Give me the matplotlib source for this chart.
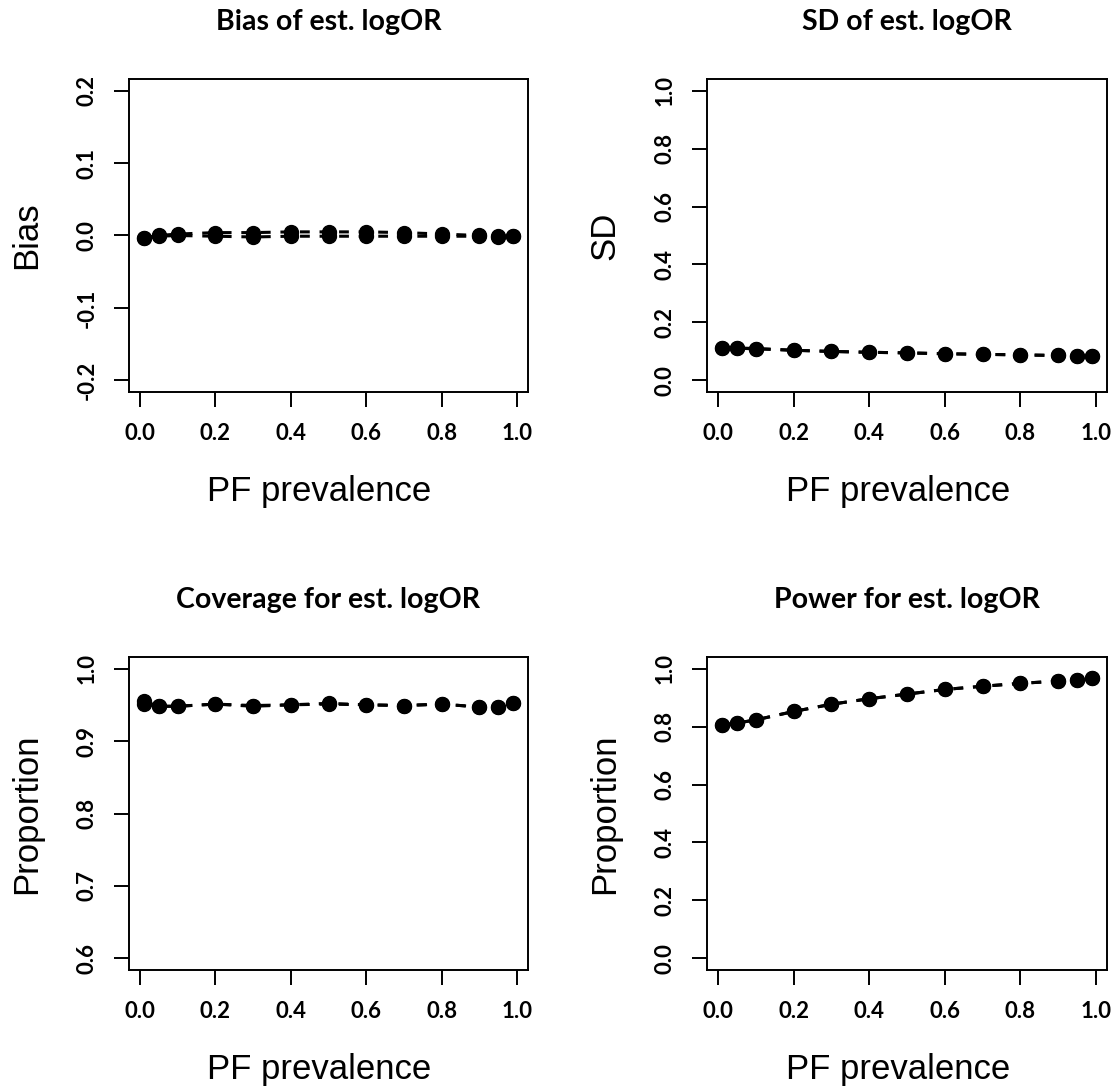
import matplotlib
matplotlib.use("Agg")
import matplotlib.pyplot as plt

# PF prevalence grid used in the simulation
prevalence = [0.01, 0.05, 0.1, 0.2, 0.3, 0.4, 0.5, 0.6, 0.7, 0.8, 0.9, 0.95, 0.99]

# two estimators, results nearly overlap
bias_a = [-0.003, 0.000, 0.002, 0.004, 0.004, 0.005, 0.005, 0.005, 0.004, 0.002, 0.000, -0.001, -0.001]
bias_b = [-0.004, -0.001, 0.000, -0.001, -0.002, -0.001, -0.001, -0.001, -0.001, -0.001, -0.001, -0.002, -0.001]

sd_a = [0.113, 0.112, 0.110, 0.104, 0.100, 0.097, 0.095, 0.092, 0.090, 0.088, 0.086, 0.085, 0.084]
sd_b = [0.112, 0.111, 0.109, 0.104, 0.100, 0.097, 0.095, 0.092, 0.090, 0.088, 0.086, 0.085, 0.084]

cover_a = [0.955, 0.948, 0.948, 0.951, 0.948, 0.950, 0.952, 0.950, 0.949, 0.951, 0.947, 0.947, 0.953]
cover_b = [0.951, 0.948, 0.948, 0.951, 0.949, 0.950, 0.951, 0.950, 0.949, 0.951, 0.947, 0.947, 0.953]

power_a = [0.805, 0.812, 0.823, 0.852, 0.877, 0.896, 0.912, 0.928, 0.939, 0.949, 0.957, 0.962, 0.966]
power_b = [0.805, 0.812, 0.823, 0.852, 0.877, 0.896, 0.912, 0.928, 0.939, 0.949, 0.957, 0.962, 0.966]

titles = ["Bias of est. logOR", "SD of est. logOR",
          "Coverage for est. logOR", "Power for est. logOR"]
ylabels = ["Bias", "SD", "Proportion", "Proportion"]
yticks = [[-0.2, -0.1, 0.0, 0.1, 0.2],
          [0.0, 0.2, 0.4, 0.6, 0.8, 1.0],
          [0.6, 0.7, 0.8, 0.9, 1.0],
          [0.0, 0.2, 0.4, 0.6, 0.8, 1.0]]
xticks = [0.0, 0.2, 0.4, 0.6, 0.8, 1.0]

W, H = 1118, 1089
fig = plt.figure(figsize=(W / 100, H / 100), dpi=100)

tick_font = "Lato"
label_font = "Liberation Sans"

# panel boxes in pixels: left, top, right, bottom
boxes = [(129, 79, 528, 392), (707, 79, 1107, 392),
         (129, 657, 528, 970), (707, 657, 1107, 970)]
series = [(bias_a, bias_b), (sd_a, sd_b), (cover_a, cover_b), (power_a, power_b)]


def r_range(lo, hi):
    ext = 0.04 * (hi - lo)
    return lo - ext, hi + ext


for i, (l, t, r, b) in enumerate(boxes):
    ax = fig.add_axes([l / W, 1 - b / H, (r - l) / W, (b - t) / H])
    for ys in series[i]:
        ax.plot(prevalence, ys, color="black", lw=2.2, ls=(0, (3.2, 3.2)),
                marker="o", ms=10, mec="black", mfc="black")
    ax.set_xlim(*r_range(min(prevalence), max(prevalence)))
    ax.set_ylim(*r_range(yticks[i][0], yticks[i][-1]))
    ax.set_xticks(xticks)
    ax.set_yticks(yticks[i])
    ax.set_xticklabels([f"{v:.1f}" for v in xticks])
    ax.set_yticklabels([f"{v:.1f}" for v in yticks[i]], rotation=90, va="center")
    ax.tick_params(direction="out", length=10.5, width=1.4,
                   labelsize=16, pad=12)
    for lab in ax.get_xticklabels() + ax.get_yticklabels():
        lab.set_fontfamily(tick_font)
        lab.set_fontweight("bold")
    for sp in ax.spines.values():
        sp.set_linewidth(1.4)

    cx = (l + r) / 2
    fig.text(cx / W, 1 - (t - 57) / H, titles[i], ha="center", va="center",
             fontsize=20.5, fontweight="bold", family=tick_font)
    fig.text((cx - 9) / W, 1 - (b + 100) / H, "PF prevalence", ha="center",
             va="center", fontsize=25, family=label_font)
    fig.text((l - 102) / W, 1 - ((t + b) / 2) / H, ylabels[i], ha="center",
             va="center", rotation=90, fontsize=25, family=label_font)

fig.savefig("out.png", dpi=100)
